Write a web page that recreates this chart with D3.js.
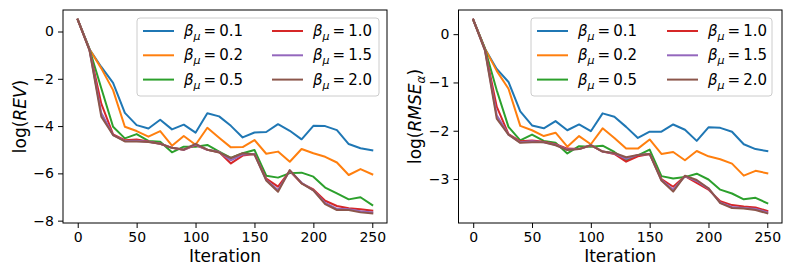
<!DOCTYPE html>
<html>
<head>
<meta charset="utf-8">
<script src="https://cdn.jsdelivr.net/npm/d3@7"></script>
<style>
  body { margin: 0; background: #fff; }
  svg { font-family: "DejaVu Sans", sans-serif; }
</style>
</head>
<body>
<div id="chart"></div>
<script>
// iterations on the x axis
const iterations = [0, 10, 20, 30, 40, 50, 60, 70, 80, 90, 100, 110, 120, 130, 140, 150, 160, 170, 180, 190, 200, 210, 220, 230, 240, 250];

const betaLabels = ["0.1", "0.2", "0.5", "1.0", "1.5", "2.0"];
const colors = ["#1f77b4", "#ff7f0e", "#2ca02c", "#d62728", "#9467bd", "#8c564b"];

// log(REV), one array per beta
const rev01 = [0.5, -0.75, -1.5, -2.17, -3.44, -3.96, -4.1, -3.73, -4.14, -3.94, -4.28, -3.46, -3.59, -3.99, -4.48, -4.27, -4.25, -3.92, -4.2, -4.56, -3.99, -4.0, -4.17, -4.76, -4.94, -5.03];
const rev02 = [0.5, -0.75, -1.56, -2.48, -4.03, -4.21, -4.45, -4.21, -4.83, -4.42, -4.79, -4.07, -4.49, -4.9, -4.89, -4.59, -5.17, -5.08, -5.51, -4.97, -5.15, -5.3, -5.54, -6.07, -5.82, -6.04];
const rev05 = [0.5, -0.75, -2.4, -4.03, -4.52, -4.34, -4.63, -4.66, -5.11, -4.87, -4.87, -4.8, -5.08, -5.35, -5.15, -5.01, -6.1, -6.18, -5.99, -5.97, -6.14, -6.6, -6.85, -7.1, -7.01, -7.34];
const rev10 = [0.5, -0.78, -3.05, -4.35, -4.6, -4.57, -4.65, -4.75, -4.92, -5.0, -4.8, -5.0, -5.1, -5.58, -5.25, -5.18, -6.22, -6.56, -5.9, -6.42, -6.68, -7.16, -7.38, -7.48, -7.52, -7.58];
const rev15 = [0.5, -0.78, -3.45, -4.38, -4.63, -4.62, -4.66, -4.75, -4.92, -5.0, -4.78, -5.0, -5.1, -5.45, -5.2, -5.18, -6.28, -6.7, -5.89, -6.4, -6.72, -7.25, -7.5, -7.52, -7.6, -7.65];
const rev20 = [0.5, -0.8, -3.6, -4.38, -4.65, -4.65, -4.67, -4.75, -4.92, -5.0, -4.75, -5.0, -5.12, -5.35, -5.15, -5.2, -6.3, -6.78, -5.86, -6.42, -6.72, -7.3, -7.55, -7.55, -7.65, -7.69];

// log(RMSE_alpha), one array per beta
const rmse01 = [0.3, -0.3, -0.72, -0.99, -1.6, -1.89, -1.95, -1.8, -1.99, -1.87, -2.01, -1.64, -1.71, -1.92, -2.15, -2.02, -2.02, -1.87, -1.98, -2.21, -1.93, -1.94, -2.02, -2.28, -2.38, -2.42];
const rmse02 = [0.3, -0.3, -0.76, -1.13, -1.9, -1.99, -2.11, -2.04, -2.33, -2.11, -2.28, -1.95, -2.15, -2.37, -2.37, -2.18, -2.48, -2.44, -2.61, -2.42, -2.53, -2.59, -2.68, -2.93, -2.83, -2.88];
const rmse05 = [0.3, -0.3, -1.16, -1.92, -2.2, -2.08, -2.21, -2.25, -2.47, -2.32, -2.33, -2.31, -2.44, -2.61, -2.51, -2.39, -2.94, -2.99, -2.96, -2.89, -3.01, -3.22, -3.3, -3.42, -3.39, -3.5];
const rmse10 = [0.3, -0.32, -1.5, -2.07, -2.22, -2.2, -2.23, -2.28, -2.37, -2.38, -2.3, -2.43, -2.48, -2.64, -2.53, -2.48, -3.0, -3.16, -2.94, -3.08, -3.22, -3.46, -3.54, -3.57, -3.59, -3.66];
const rmse15 = [0.3, -0.33, -1.68, -2.08, -2.24, -2.22, -2.24, -2.29, -2.39, -2.38, -2.3, -2.43, -2.47, -2.58, -2.5, -2.48, -3.02, -3.22, -2.94, -3.04, -3.2, -3.49, -3.58, -3.6, -3.62, -3.69];
const rmse20 = [0.3, -0.34, -1.75, -2.08, -2.25, -2.24, -2.24, -2.3, -2.4, -2.38, -2.3, -2.43, -2.46, -2.55, -2.5, -2.48, -3.03, -3.26, -2.93, -3.02, -3.19, -3.5, -3.6, -3.61, -3.64, -3.71];

const revTicks = [0, -2, -4, -6, -8];
const rmseTicks = [0, -1, -2, -3];
const xTicks = [0, 50, 100, 150, 200, 250];

const width = 797;
const height = 266;

const svg = d3.select("#chart")
    .append("svg")
    .attr("width", width)
    .attr("height", height);

function drawPanel(opts) {
    const g = svg.append("g");
    const all = opts.series.flat();
    const ext = d3.extent(all);
    const pad = (ext[1] - ext[0]) * 0.05;

    const x = d3.scaleLinear().domain([-12.5, 262.5]).range([opts.left, opts.right]);
    const y = d3.scaleLinear().domain([ext[0] - pad, ext[1] + pad]).range([opts.bottom, opts.top]);

    // lines
    const line = d3.line()
        .x((d, i) => x(iterations[i]))
        .y(d => y(d));

    opts.series.forEach((s, k) => {
        g.append("path")
            .datum(s)
            .attr("fill", "none")
            .attr("stroke", colors[k])
            .attr("stroke-width", 2)
            .attr("stroke-linejoin", "round")
            .attr("stroke-linecap", "square")
            .attr("d", line);
    });

    // axes
    const xAxis = d3.axisBottom(x).tickValues(xTicks).tickSize(5).tickPadding(4).tickFormat(d3.format("d"));
    const yAxis = d3.axisLeft(y).tickValues(opts.yTicks).tickSize(5).tickPadding(4)
        .tickFormat(d => d < 0 ? "\u2212" + Math.abs(d) : d);

    g.append("g")
        .attr("transform", `translate(0,${opts.bottom})`)
        .call(xAxis)
        .call(a => a.select(".domain").remove());
    g.append("g")
        .attr("transform", `translate(${opts.left},0)`)
        .call(yAxis)
        .call(a => a.select(".domain").remove());

    g.selectAll(".tick text")
        .attr("font-family", "DejaVu Sans")
        .attr("font-size", 14)
        .attr("fill", "#000");
    g.selectAll(".tick line").attr("stroke", "#000").attr("stroke-width", 1);

    // frame
    g.append("rect")
        .attr("x", opts.left)
        .attr("y", opts.top)
        .attr("width", opts.right - opts.left)
        .attr("height", opts.bottom - opts.top)
        .attr("fill", "none")
        .attr("stroke", "#000")
        .attr("stroke-width", 1);

    // x label
    g.append("text")
        .attr("x", (opts.left + opts.right) / 2)
        .attr("y", 262)
        .attr("text-anchor", "middle")
        .attr("font-size", 17)
        .text("Iteration");

    // y label with math part
    const yl = g.append("text")
        .attr("transform", `translate(${opts.ylabelX},${(opts.top + opts.bottom) / 2}) rotate(-90)`)
        .attr("text-anchor", "middle")
        .attr("font-size", 17);
    yl.append("tspan").text("log(");
    yl.append("tspan").attr("font-style", "italic").text(opts.ylabelMath);
    if (opts.ylabelSub) {
        yl.append("tspan").attr("font-style", "italic").attr("font-size", 12).attr("dy", 4).text(opts.ylabelSub);
        yl.append("tspan").attr("dy", -4).text(")");
    } else {
        yl.append("tspan").text(")");
    }

    // legend
    const lg = g.append("g").attr("transform", `translate(${opts.legendX},${opts.top + 8})`);
    lg.append("rect")
        .attr("width", opts.legendW)
        .attr("height", 78)
        .attr("rx", 3)
        .attr("fill", "#fff")
        .attr("fill-opacity", 0.8)
        .attr("stroke", "#ccc")
        .attr("stroke-width", 1);

    betaLabels.forEach((b, k) => {
        const col = Math.floor(k / 3);
        const row = k % 3;
        const ox = 6 + col * opts.colGap;
        const oy = 13 + row * 24.3;
        lg.append("line")
            .attr("x1", ox)
            .attr("x2", ox + 31)
            .attr("y1", oy)
            .attr("y2", oy)
            .attr("stroke", colors[k])
            .attr("stroke-width", 2);
        const t = lg.append("text")
            .attr("x", ox + 41)
            .attr("y", oy + 5)
            .attr("font-size", 15);
        t.append("tspan").attr("font-style", "italic").text("\u03b2");
        t.append("tspan").attr("font-style", "italic").attr("font-size", 11).attr("dy", 4).text("\u03bc");
        t.append("tspan").attr("dy", -4).attr("dx", 3).text("=");
        t.append("tspan").attr("dx", 3).text(b);
    });
}

drawPanel({
    left: 63, right: 387, top: 10, bottom: 223,
    series: [rev01, rev02, rev05, rev10, rev15, rev20],
    yTicks: revTicks,
    ylabelX: 26, ylabelMath: "REV", ylabelSub: null,
    legendX: 137, legendW: 242, colGap: 129
});

drawPanel({
    left: 458.5, right: 782, top: 10, bottom: 223,
    series: [rmse01, rmse02, rmse05, rmse10, rmse15, rmse20],
    yTicks: rmseTicks,
    ylabelX: 421, ylabelMath: "RMSE", ylabelSub: "\u03b1",
    legendX: 531, legendW: 241, colGap: 130
});
</script>
</body>
</html>
